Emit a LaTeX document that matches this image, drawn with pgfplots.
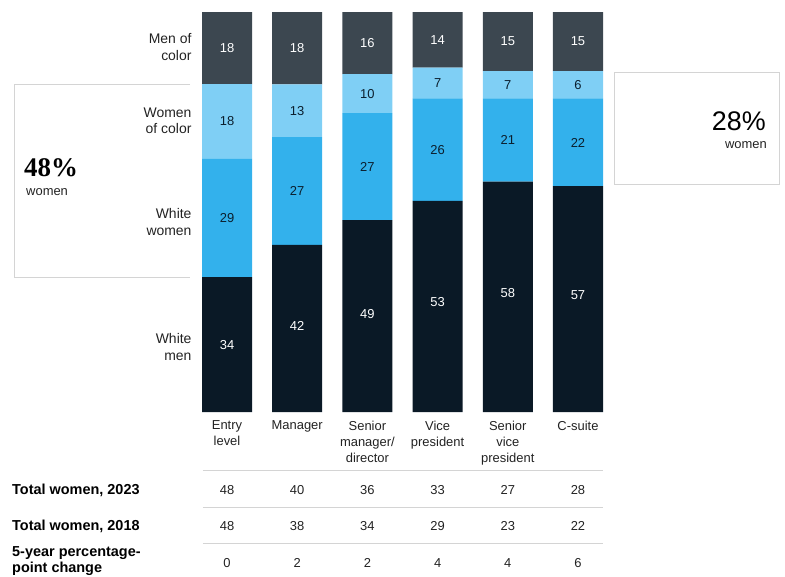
\documentclass[border=0pt]{standalone}
\usepackage{fontspec}
\setmainfont{Liberation Sans}
\newfontfamily\serifbf{Liberation Serif}
\usepackage{pgfplots}
\pgfplotsset{compat=1.18}
\definecolor{mc}{HTML}{3C4750}
\definecolor{woc}{HTML}{7FCFF5}
\definecolor{ww}{HTML}{33B1EC}
\definecolor{wm}{HTML}{0A1926}
\definecolor{navy}{HTML}{0B1F2E}
\definecolor{txt}{HTML}{222222}
\definecolor{linegray}{HTML}{D4D4D4}
\begin{document}
\begin{tikzpicture}
\path[use as bounding box] (0,0) rectangle (785bp,-577bp);
% left bracket and right box
\draw[linegray, line width=0.8bp] (190bp,-84bp) -- (14bp,-84bp) -- (14bp,-277bp) -- (190bp,-277bp);
\draw[linegray, line width=0.8bp] (614bp,-72bp) rectangle (779bp,-184bp);
\begin{axis}[
  scale only axis, width=421.2bp, height=400bp,
  at={(191.9bp,-412bp)}, anchor=south west,
  xmin=-0.5, xmax=5.5, ymin=0, ymax=100,
  ybar stacked, bar width=50bp,
  axis line style={draw=none}, major tick length=0pt,
  ytick=\empty, xtick={0,1,2,3,4,5},
  xticklabels={{Entry\\level},{Manager},{Senior\\manager/\\director},{Vice\\president},{Senior\\vice\\president},{C-suite}},
  xticklabel style={align=center, anchor=north, font=\fontsize{13}{16}\selectfont, text=txt, yshift=-5.5bp},
  clip=false,
]
\addplot[fill=wm, draw=none] coordinates {(0,33.7) (1,41.8) (2,48.0) (3,52.8) (4,57.6) (5,56.5)};
\addplot[fill=ww, draw=none] coordinates {(0,29.6) (1,26.9) (2,26.7) (3,25.6) (4,20.8) (5,21.9)};
\addplot[fill=woc, draw=none] coordinates {(0,18.7) (1,13.2) (2,9.8) (3,7.7) (4,6.8) (5,6.8)};
\addplot[fill=mc, draw=none] coordinates {(0,18.0) (1,18.1) (2,15.5) (3,13.9) (4,14.8) (5,14.8)};
\end{axis}
\begin{axis}[
  scale only axis, width=421.2bp, height=400bp,
  at={(191.9bp,-412bp)}, anchor=south west,
  xmin=-0.5, xmax=5.5, ymin=0, ymax=100,
  hide axis, clip=false,
  nodes near coords, point meta=explicit symbolic,
  every node near coord/.append style={anchor=center, font=\fontsize{13}{15}\selectfont},
]
% segment labels
\addplot[draw=none, nodes near coords style={text=white}] coordinates {(0,16.85)[34] (1,21.6)[42] (2,24.5)[49] (3,27.5)[53] (4,29.8)[58] (5,29.3)[57]};
\addplot[draw=none, nodes near coords style={text=navy}] coordinates {(0,48.5)[29] (1,55.25)[27] (2,61.35)[27] (3,65.6)[26] (4,68.0)[21] (5,67.35)[22]};
\addplot[draw=none, nodes near coords style={text=navy}] coordinates {(0,72.65)[18] (1,75.3)[13] (2,79.6)[10] (3,82.25)[7] (4,81.8)[7] (5,81.8)[6]};
\addplot[draw=none, nodes near coords style={text=white}] coordinates {(0,91.0)[18] (1,90.95)[18] (2,92.25)[16] (3,93.05)[14] (4,92.6)[15] (5,92.6)[15]};
% table rows
\addplot[draw=none, nodes near coords style={text=txt}] coordinates {(0,-19.5)[48] (1,-19.5)[40] (2,-19.5)[36] (3,-19.5)[33] (4,-19.5)[27] (5,-19.5)[28]};
\addplot[draw=none, nodes near coords style={text=txt}] coordinates {(0,-28.5)[48] (1,-28.5)[38] (2,-28.5)[34] (3,-28.5)[29] (4,-28.5)[23] (5,-28.5)[22]};
\addplot[draw=none, nodes near coords style={text=txt}] coordinates {(0,-37.75)[0] (1,-37.75)[2] (2,-37.75)[2] (3,-37.75)[4] (4,-37.75)[4] (5,-37.75)[6]};
\draw[linegray, line width=0.8bp] (axis cs:-0.342,-14.5) -- (axis cs:5.356,-14.5);
\draw[linegray, line width=0.8bp] (axis cs:-0.342,-23.75) -- (axis cs:5.356,-23.75);
\draw[linegray, line width=0.8bp] (axis cs:-0.342,-32.75) -- (axis cs:5.356,-32.75);
\end{axis}
% left category labels
\begin{scope}[every node/.style={align=right, anchor=east, font=\fontsize{14}{16.5}\selectfont, text=txt}]
\node at (195bp,-47bp) {Men of\\color};
\node at (195bp,-121bp) {Women\\of color};
\node at (195bp,-222bp) {White\\women};
\node at (195bp,-347bp) {White\\men};
\end{scope}
% annotations
\node[anchor=west, font=\serifbf\bfseries\fontsize{27}{27}\selectfont, text=black, inner sep=1bp] at (23bp,-168bp) {48\%};
\node[anchor=west, font=\fontsize{13}{15}\selectfont, text=txt, inner sep=1bp] at (25bp,-192bp) {women};
\node[anchor=east, font=\fontsize{27}{27}\selectfont, text=black, inner sep=1bp] at (767bp,-121bp) {28\%};
\node[anchor=east, font=\fontsize{13}{15}\selectfont, text=txt, inner sep=1bp] at (768bp,-145bp) {women};
% row labels
\begin{scope}[every node/.style={anchor=west, font=\bfseries\fontsize{14.5}{16.5}\selectfont, text=black, inner sep=1bp, align=left}]
\node at (11bp,-490bp) {Total women, 2023};
\node at (11bp,-526bp) {Total women, 2018};
\node at (11bp,-561bp) {5-year percentage-\\point change};
\end{scope}
\end{tikzpicture}
\end{document}
